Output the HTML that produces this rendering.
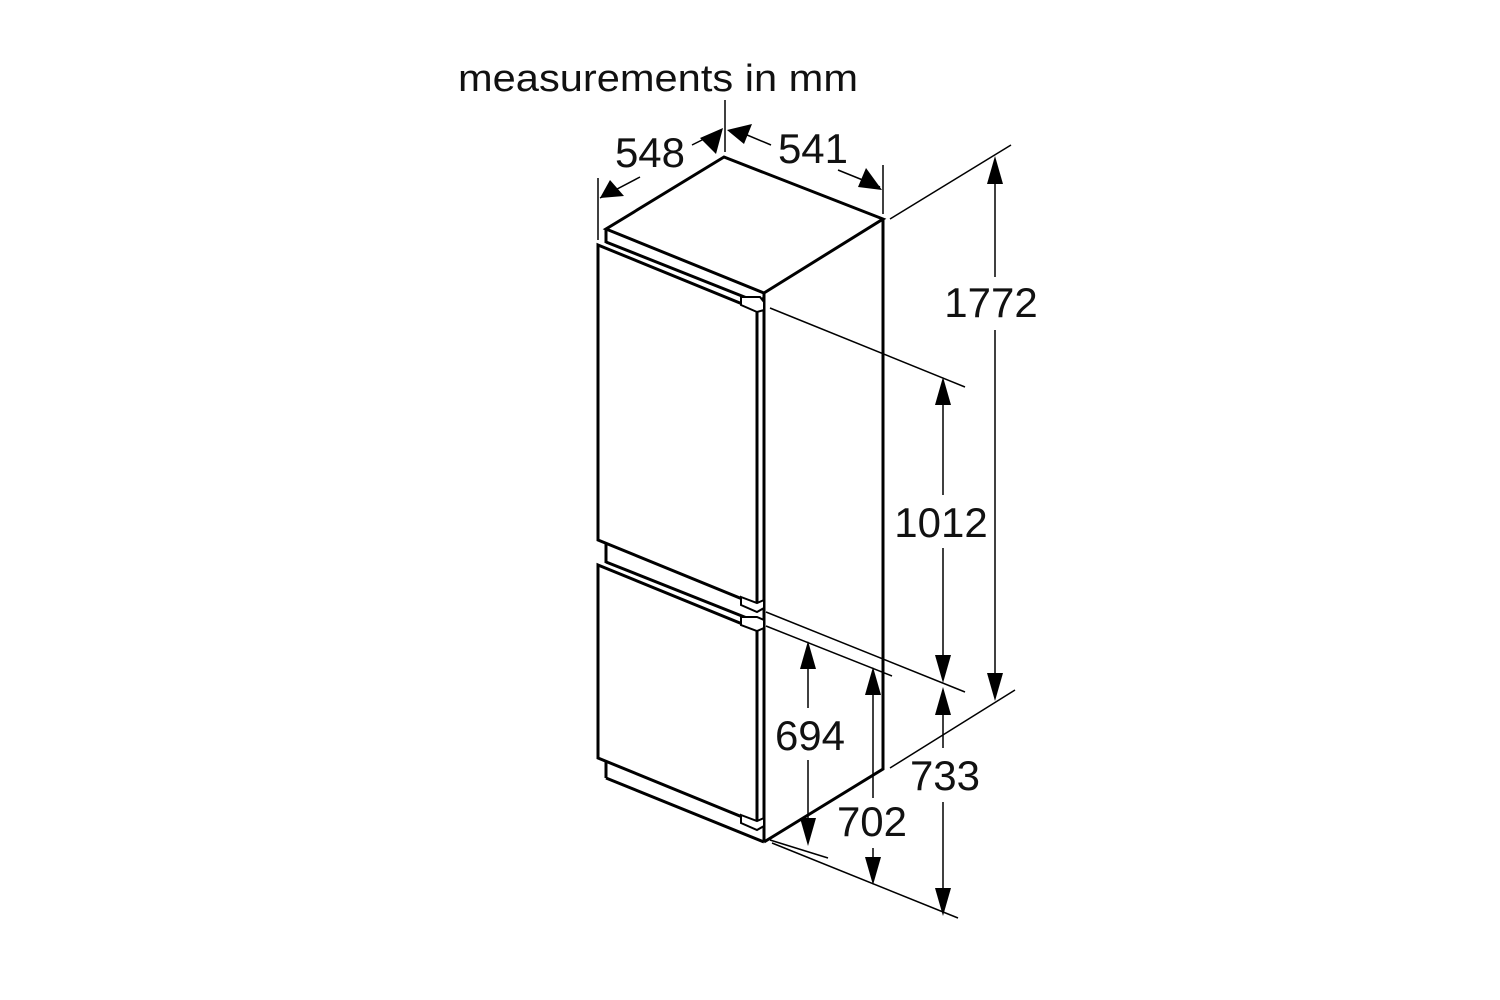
<!DOCTYPE html>
<html><head><style>
html,body{margin:0;padding:0;background:#fff;}
svg{display:block;}
text{font-family:"Liberation Sans",Arial,sans-serif;fill:#111;}
</style></head><body>
<svg width="1500" height="1000" viewBox="0 0 1500 1000" xmlns="http://www.w3.org/2000/svg">
<text x="458" y="91" font-size="38" textLength="400" lengthAdjust="spacingAndGlyphs">measurements in mm</text>

<g fill="none" stroke="#000" stroke-width="3" stroke-linejoin="miter">
<polygon points="724,157 883,219 764,293 606,229" fill="#fff"/>
<polyline points="883,219 883,769 764,842"/>
<line x1="764" y1="293" x2="764" y2="842"/>
<line x1="606" y1="229" x2="606" y2="243"/>
<line x1="606" y1="538" x2="606" y2="563"/>
<line x1="606" y1="758" x2="606" y2="778"/>
<line x1="606" y1="778" x2="764" y2="842"/>
<polygon points="598,245 757,310 757,605 598,540" fill="#fff"/>
<line x1="606" y1="242" x2="757" y2="302"/>
<polygon points="598,565 757,630 757,823 598,758" fill="#fff"/>
<line x1="606" y1="562" x2="757" y2="622"/>
<line x1="757" y1="302" x2="764" y2="298"/>
</g>
<g fill="#fff" stroke="#000" stroke-width="2">
<polygon points="741,297 760,297 764,302 764,310 757,312 741,305"/>
<polygon points="741,597 757,603 764,600 764,608 757,612 741,605"/>
<polygon points="741,617 757,617 764,620 764,628 757,631 741,625"/>
<polygon points="741,815 757,821 764,818 764,826 757,830 741,823"/>
</g>

<g stroke="#000" stroke-width="1.5" fill="none">
<line x1="725" y1="100" x2="725" y2="152"/>
<line x1="598" y1="178" x2="598" y2="240"/>
<line x1="883" y1="165" x2="883" y2="214"/>
<line x1="890" y1="219" x2="1011" y2="145"/>
<line x1="890" y1="768" x2="1015" y2="690"/>
<line x1="770" y1="308" x2="965" y2="387"/>
<line x1="766" y1="612" x2="965" y2="692"/>
<line x1="766" y1="626" x2="892" y2="676"/>
<line x1="770" y1="840" x2="828" y2="858"/>
<line x1="772" y1="843" x2="958" y2="918"/>
<line x1="995" y1="165" x2="995" y2="277"/>
<line x1="995" y1="330" x2="995" y2="690"/>
<line x1="943" y1="385" x2="943" y2="495"/>
<line x1="943" y1="548" x2="943" y2="675"/>
<line x1="943" y1="690" x2="943" y2="748"/>
<line x1="943" y1="802" x2="943" y2="910"/>
<line x1="808" y1="648" x2="808" y2="708"/>
<line x1="808" y1="760" x2="808" y2="840"/>
<line x1="873" y1="672" x2="873" y2="798"/>
<line x1="873" y1="848" x2="873" y2="880"/>
<line x1="692" y1="145" x2="710" y2="136"/>
<line x1="600" y1="198" x2="640" y2="177"/>
<line x1="740" y1="132" x2="771" y2="145"/>
<line x1="838" y1="170" x2="880" y2="187"/>
</g>
<g fill="#000">
<polygon points="995,156 987,184 1003,184"/>
<polygon points="995,701 987,673 1003,673"/>
<polygon points="943,377 935,405 951,405"/>
<polygon points="943,683 935,655 951,655"/>
<polygon points="943,687 935,715 951,715"/>
<polygon points="943,916 935,888 951,888"/>
<polygon points="808,641 800,669 816,669"/>
<polygon points="808,846 800,818 816,818"/>
<polygon points="873,667 865,695 881,695"/>
<polygon points="873,885 865,857 881,857"/>
<polygon points="723,128 700,138 716,154"/>
<polygon points="600,198 610,180 624,196"/>
<polygon points="727,130 744,144 752,124"/>
<polygon points="882,190 858,187 866,168"/>
</g>
<g font-size="42" text-anchor="middle">
<text x="650" y="167">548</text>
<text x="813" y="163">541</text>
<text x="991" y="317">1772</text>
<text x="941" y="537">1012</text>
<text x="810" y="750">694</text>
<text x="945" y="790">733</text>
<text x="872" y="836">702</text>
</g>
</svg>
</body></html>
